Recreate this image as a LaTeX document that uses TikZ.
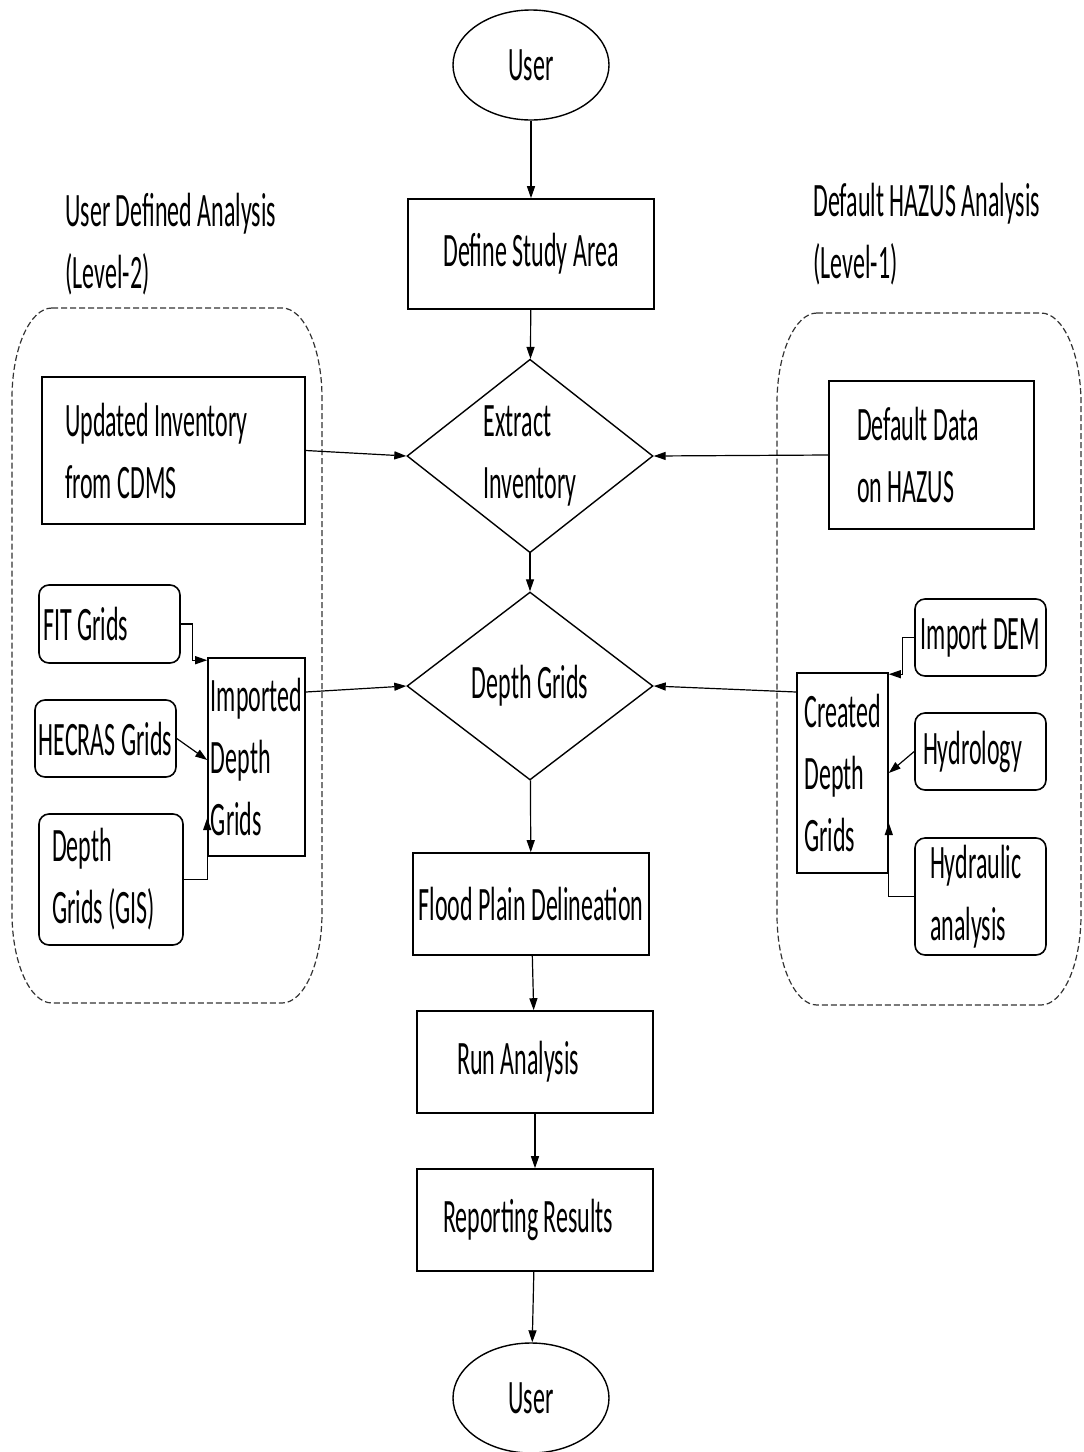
\documentclass[tikz,border=0pt]{standalone}
\usepackage{fontspec}
\setmainfont{Carlito}[FakeStretch=0.5]
\usetikzlibrary{shapes.geometric,arrows.meta}

\begin{document}
\begin{tikzpicture}[x=0.5pt,y=-0.5pt]
\tikzset{texte/.style={font=\fontsize{24}{31}\selectfont},
boite/.style={texte, draw, line width=0.8pt, inner ysep=0pt, align=flush left},
arrondi/.style={boite, rounded corners=5pt},
ovale/.style={texte, draw, ellipse, line width=0.7pt, minimum width=78pt, minimum height=55pt},
losange/.style={texte, draw, diamond, line width=0.7pt, inner sep=0pt, minimum width=123pt, minimum height=94pt, align=flush left},
fleche/.style={-{Triangle[length=6pt,width=4pt]}, line width=0.6pt},
groupe/.style={dash pattern=on 3pt off 1.5pt, line width=0.6pt, gray!40!black}}
\useasboundingbox (0,0) rectangle (1083,1452);
\draw[groupe] (52,308) -- (282,308) arc[start angle=-90, end angle=0, x radius=40, y radius=90] -- (322,913) arc[start angle=0, end angle=90, x radius=40, y radius=90] -- (52,1003) arc[start angle=90, end angle=180, x radius=40, y radius=90] -- (12,398) arc[start angle=180, end angle=270, x radius=40, y radius=90] -- cycle;
\draw[groupe] (817,313) -- (1041,313) arc[start angle=-90, end angle=0, x radius=40, y radius=90] -- (1081,915) arc[start angle=0, end angle=90, x radius=40, y radius=90] -- (817,1005) arc[start angle=90, end angle=180, x radius=40, y radius=90] -- (777,403) arc[start angle=180, end angle=270, x radius=40, y radius=90] -- cycle;
\node[texte, anchor=west, align=flush left, inner sep=0pt] (L2) at (65,244) {User Defined Analysis\\(Level-2)};
\node[texte, anchor=west, align=flush left, inner sep=0pt] (L1) at (813,234) {Default HAZUS Analysis\\(Level-1)};
\node[ovale] (U1) at (531,65) {User};
\node[boite, minimum width=123pt, minimum height=55pt] (DS) at (531,254) {Define Study Area};
\node[losange] (EI) at (530,456) {Extract\\Inventory};
\node[losange] (DG) at (530,686) {Depth Grids};
\node[boite, minimum width=118pt, minimum height=51pt, inner xsep=1pt] (FPD) at (531,904) {Flood Plain Delineation};
\node[boite, minimum height=51pt, text width=78pt, inner xsep=20pt] (RA) at (535,1062) {Run Analysis};
\node[boite, minimum height=51pt, text width=92pt, inner xsep=13pt] (RR) at (535,1220) {Reporting Results};
\node[ovale] (U2) at (531,1398) {User};
\node[boite, minimum height=73.5pt, text width=108.5pt, inner xsep=11.5pt] (UI) at (173.5,450.5) {Updated Inventory\\from CDMS};
\node[boite, minimum height=74pt, text width=74.5pt, inner xsep=14pt] (DD) at (931.5,455) {Default Data\\on HAZUS};
\node[arrondi, minimum height=39pt, text width=66.5pt, inner xsep=2pt] (FIT) at (109.5,624) {FIT Grids};
\node[arrondi, minimum width=70.5pt, minimum height=38.5pt, inner xsep=1pt] (HEC) at (105.5,738.5) {HECRAS Grids};
\node[arrondi, minimum height=65.5pt, text width=59pt, inner xsep=6.5pt] (GIS) at (111,879.5) {Depth\\Grids (GIS)};
\node[boite, minimum width=48.5pt, minimum height=99pt, inner xsep=1pt] (IDG) at (256.5,757) {Imported\\Depth\\Grids};
\node[boite, minimum width=45.5pt, minimum height=100pt, inner xsep=1pt] (CDG) at (842.5,773) {Created\\Depth\\Grids};
\node[arrondi, minimum width=65.5pt, minimum height=38.5pt, inner xsep=1pt] (DEM) at (980.5,637.5) {Import DEM};
\node[arrondi, minimum height=38.5pt, text width=57.5pt, inner xsep=4pt] (HYD) at (980.5,751.5) {Hydrology};
\node[arrondi, minimum height=58.5pt, text width=50.5pt, inner xsep=7.5pt] (HYA) at (980.5,896.5) {Hydraulic\\analysis};
\draw[fleche] (U1) -- (DS);
\draw[fleche] (DS) -- (EI);
\draw[fleche] (EI) -- (DG);
\draw[fleche] (DG) -- (FPD);
\draw[fleche] (FPD) -- (RA);
\draw[fleche] (RA) -- (RR);
\draw[fleche] (RR) -- (U2);
\draw[fleche] (UI.east) -- (EI.west);
\draw[fleche] (DD.west) -- (EI.east);
\draw[fleche] ([yshift=32.5pt]IDG.east) -- (DG.west);
\draw[fleche] ([yshift=40.5pt]CDG.west) -- (DG.east);
\draw[fleche] (FIT.east) -| ([xshift=-7.5pt,yshift=-1.5pt]IDG.north west) -- ([yshift=-1.5pt]IDG.north west);
\draw[fleche] (HEC.east) -- ([yshift=-1.5pt]IDG.west);
\draw[fleche] (GIS.east) -| ([yshift=-30.5pt]IDG.west);
\draw[fleche] (DEM.west) -| ([xshift=7pt,yshift=-1pt]CDG.north east) -- ([yshift=-1pt]CDG.north east);
\draw[fleche] (HYD.west) -- (CDG.east);
\draw[fleche] (HYA.west) -| ([yshift=-25pt]CDG.east);
\end{tikzpicture}
\end{document}
